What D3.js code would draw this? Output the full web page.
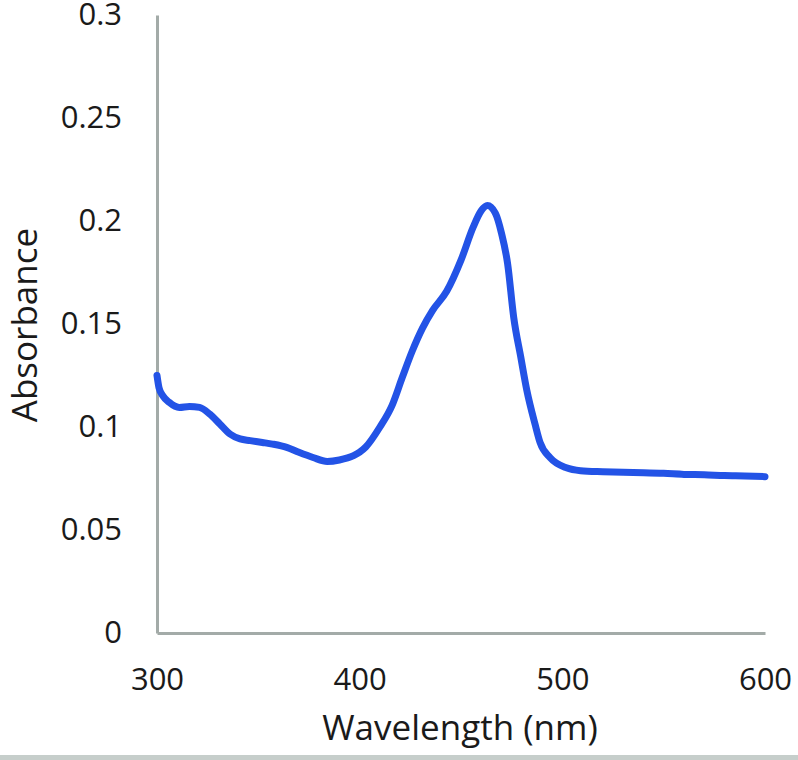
<!DOCTYPE html>
<html>
<head>
<meta charset="utf-8">
<script src="https://cdn.jsdelivr.net/npm/d3@7"></script>
<style>
  body { margin: 0; background: #fff; }
  text { font-family: "Open Sans", sans-serif; fill: #1a1a1a; }
</style>
</head>
<body>
<div id="chart"></div>
<script>
// chart size
const svg_width = 798;
const svg_height = 760;

// spectrum
const wavelength = [300, 301, 303, 306, 311, 316, 321, 326, 331, 336, 341, 346, 352, 357, 364, 370, 377, 384, 390, 397,
  400, 403, 410, 416, 421, 426, 431, 436, 443, 450, 456, 460, 463, 467, 470, 473, 476, 479.5, 482.5, 486.5,
  489, 494, 502, 509, 520, 530, 540, 550, 560, 570, 580, 590, 600];
const absorbance = [0.125, 0.119, 0.115, 0.112, 0.1095, 0.110, 0.1095, 0.1063, 0.1015, 0.0966, 0.0942, 0.0934, 0.0925, 0.0917, 0.0901, 0.0877, 0.0852, 0.0833, 0.0840, 0.0861,
  0.0878, 0.0903, 0.1000, 0.1105, 0.124, 0.137, 0.148, 0.1566, 0.166, 0.181, 0.197, 0.205, 0.2075, 0.2037, 0.194, 0.1793, 0.1533, 0.1339, 0.1177, 0.1015,
  0.0925, 0.0851, 0.0802, 0.0788, 0.0783, 0.0780, 0.0778, 0.0775, 0.0770, 0.0768, 0.0764, 0.0762, 0.0759];

const xTicks = [300, 400, 500, 600];
const yTicks = [0, 0.05, 0.1, 0.15, 0.2, 0.25, 0.3];
const yTickLabels = ["0", "0.05", "0.1", "0.15", "0.2", "0.25", "0.3"];

const margin = {left: 157, right: 33, top: 15, bottom: 127};

let svg = d3.select("#chart")
  .append("svg")
    .attr("width", svg_width)
    .attr("height", svg_height)

const x = d3.scaleLinear()
  .domain([300, 600])
  .range([margin.left, svg_width - margin.right]);

const y = d3.scaleLinear()
  .domain([0, 0.3])
  .range([svg_height - margin.bottom, margin.top]);

// axes, no tick marks, Excel style
svg.append("g")
  .attr("transform", "translate(0," + y(0) + ")")
  .call(d3.axisBottom(x).tickValues(xTicks).tickSize(0).tickPadding(35).tickFormat(d3.format("d")))
  .call(g => g.select(".domain").attr("stroke", "#a3aba8").attr("stroke-width", 3))
  .call(g => g.selectAll("text").style("font-size", "31px").attr("fill", "#1a1a1a").attr("font-family", "Open Sans"));

svg.append("g")
  .attr("transform", "translate(" + x(300) + ",0)")
  .call(d3.axisLeft(y).tickValues(yTicks).tickSize(0).tickPadding(35).tickFormat((d, i) => yTickLabels[i]))
  .call(g => g.select(".domain").attr("stroke", "#a3aba8").attr("stroke-width", 3))
  .call(g => g.selectAll("text").style("font-size", "31px").attr("fill", "#1a1a1a").attr("font-family", "Open Sans"));

// axis titles
svg.append("text")
  .attr("x", 460)
  .attr("y", 740)
  .attr("text-anchor", "middle")
  .style("font-size", "35px")
  .text("Wavelength (nm)");

svg.append("text")
  .attr("transform", "translate(37,325) rotate(-90)")
  .attr("text-anchor", "middle")
  .style("font-size", "35px")
  .text("Absorbance");

// the spectrum
const line = d3.line()
  .x(d => x(d[0]))
  .y(d => y(d[1]))
  .curve(d3.curveMonotoneX);

svg.append("path")
  .datum(wavelength.map((w, i) => [w, absorbance[i]]))
  .attr("d", line)
  .attr("fill", "none")
  .attr("stroke", "#2353e6")
  .attr("stroke-width", 7)
  .attr("stroke-linejoin", "round")
  .attr("stroke-linecap", "round");

// grey rule along the bottom
svg.append("line")
  .attr("x1", 0)
  .attr("x2", svg_width)
  .attr("y1", 757.5)
  .attr("y2", 757.5)
  .attr("stroke", "#c6cecb")
  .attr("stroke-width", 5);
</script>
</body>
</html>
